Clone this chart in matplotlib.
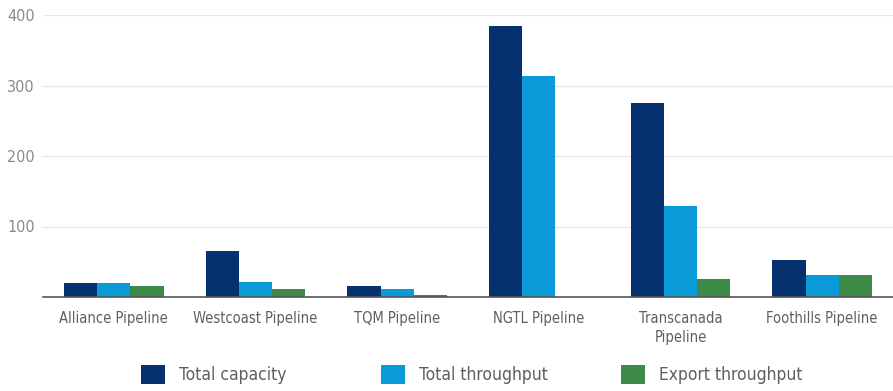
import matplotlib
matplotlib.use("Agg")
import matplotlib.pyplot as plt
import numpy as np
from matplotlib.patches import Patch

categories = ["Alliance Pipeline", "Westcoast Pipeline", "TQM Pipeline",
              "NGTL Pipeline", "Transcanada\nPipeline", "Foothills Pipeline"]
total_capacity = [20, 65, 16, 384, 275, 53]
total_throughput = [20, 21, 11, 313, 129, 31]
export_throughput = [16, 11, 3, 0, 25, 31]
series_names = ["Total capacity", "Total throughput", "Export throughput"]
colors = ["#05316f", "#0a9ad8", "#3c8a46"]
yticks = [100, 200, 300, 400]

plt.rcParams['font.family'] = ['DejaVu Sans']
plt.rcParams['font.stretch'] = 'condensed'

fig = plt.figure(figsize=(8.93, 3.91), dpi=100)
ax = fig.add_axes([43/893, 1-297/391, 1-43/893, (297-15)/391])

x = np.arange(len(categories))
w = 0.235
for i, (vals, c) in enumerate(zip([total_capacity, total_throughput, export_throughput], colors)):
    ax.bar(x + (i-1)*w, vals, width=w, color=c, zorder=3)

ax.set_xlim(-0.5, len(categories)-0.5)
ax.set_ylim(0, 400)
ax.set_yticks(yticks)
ax.set_xticks(x)
ax.set_xticklabels(categories, fontsize=10.5, color="#5f5f5f", linespacing=1.35)
ax.tick_params(axis='x', length=0, pad=10)
ax.tick_params(axis='y', length=0, pad=6, labelsize=11.5, labelcolor="#8a8a8a")
ax.grid(axis='y', color="#e8e8e8", linewidth=1, zorder=0)
for s in ['top', 'right', 'left']:
    ax.spines[s].set_visible(False)
ax.spines['bottom'].set_color("#555555")
ax.spines['bottom'].set_linewidth(1.2)
ax.spines['bottom'].set_zorder(4)

legend_x = [141, 381, 621]
for name, c, lx in zip(series_names, colors, legend_x):
    fig.legend([Patch(facecolor=c, edgecolor='none')], [name], loc='center left',
               bbox_to_anchor=(lx/893, 1-374.5/391), frameon=False, fontsize=12.5,
               handlelength=1.38, handleheight=1.38, handletextpad=0.8,
               borderpad=0, borderaxespad=0, labelcolor="#5f5f5f")

fig.savefig("out.png", dpi=100)
